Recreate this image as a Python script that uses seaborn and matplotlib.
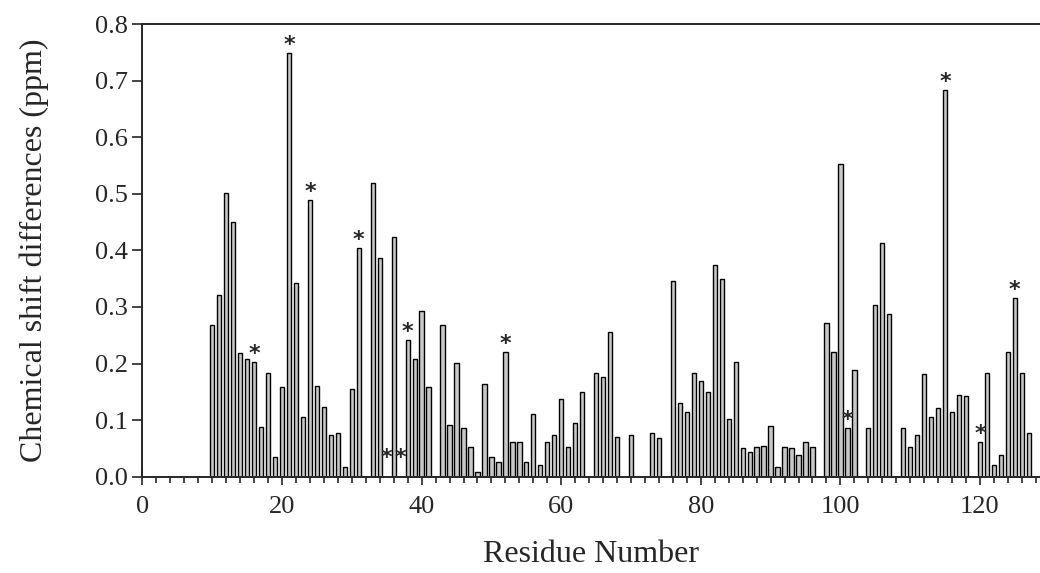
import numpy as np
import pandas as pd
import seaborn as sns
import matplotlib.pyplot as plt
from matplotlib.ticker import MultipleLocator

# residue numbers that have a measured bar, and the shift difference (ppm)
residues = [10, 11, 12, 13, 14, 15, 16, 17, 18, 19, 20, 21, 22, 23, 24, 25, 26, 27, 28, 29,
            30, 31, 33, 34, 36, 38, 39, 40, 41, 43, 44, 45, 46, 47, 48, 49, 50, 51, 52, 53,
            54, 55, 56, 57, 58, 59, 60, 61, 62, 63, 65, 66, 67, 68, 70, 73, 74, 76, 77, 78,
            79, 80, 81, 82, 83, 84, 85, 86, 87, 88, 89, 90, 91, 92, 93, 94, 95, 96, 98, 99,
            100, 101, 102, 104, 105, 106, 107, 109, 110, 111, 112, 113, 114, 115, 116, 117, 118, 120, 121, 122,
            123, 124, 125, 126, 127]
shifts = [0.268, 0.321, 0.502, 0.450, 0.218, 0.208, 0.203, 0.088, 0.183, 0.035, 0.158, 0.749, 0.342, 0.105, 0.489, 0.161, 0.124, 0.074, 0.078, 0.018,
          0.155, 0.405, 0.520, 0.387, 0.424, 0.242, 0.208, 0.293, 0.158, 0.269, 0.091, 0.201, 0.086, 0.052, 0.009, 0.164, 0.035, 0.026, 0.221, 0.062,
          0.061, 0.026, 0.111, 0.021, 0.061, 0.074, 0.137, 0.052, 0.095, 0.149, 0.183, 0.177, 0.255, 0.070, 0.074, 0.078, 0.068, 0.346, 0.130, 0.114,
          0.183, 0.170, 0.150, 0.374, 0.350, 0.102, 0.203, 0.051, 0.044, 0.052, 0.055, 0.090, 0.018, 0.052, 0.050, 0.039, 0.062, 0.052, 0.271, 0.220,
          0.552, 0.087, 0.189, 0.087, 0.304, 0.413, 0.287, 0.086, 0.052, 0.074, 0.181, 0.105, 0.121, 0.683, 0.114, 0.144, 0.142, 0.062, 0.184, 0.020,
          0.039, 0.220, 0.316, 0.184, 0.077]

# residues flagged with an asterisk (35 and 37 have no bar)
starred = [16, 21, 24, 31, 35, 37, 38, 52, 101, 115, 120, 125]

df = pd.DataFrame({"Residue": residues, "Shift": shifts})
lookup = dict(zip(residues, shifts))

sns.set_style("ticks")
plt.rcParams["font.family"] = ["Liberation Serif", "DejaVu Serif"]

fig = plt.figure(figsize=(10.4, 5.73), dpi=100)
ax = fig.add_axes([0.137, 0.168, 0.863, 0.79])

sns.barplot(data=df, x="Residue", y="Shift", native_scale=True, width=0.62,
            color="#c8c8c8", edgecolor="black", linewidth=1.0, saturation=1, ax=ax)

for r in starred:
    v = lookup.get(r, 0.0)
    y = v + 0.014 if v > 0 else 0.033
    ax.text(r, y, "*", ha="center", va="center", fontsize=16, fontweight="bold",
            fontfamily="DejaVu Sans")

ax.set_xlim(0, 128.6)
ax.set_ylim(0, 0.8)
ax.xaxis.set_major_locator(MultipleLocator(20))
ax.xaxis.set_minor_locator(MultipleLocator(2))
ax.yaxis.set_major_locator(MultipleLocator(0.1))
ax.yaxis.set_major_formatter(plt.FormatStrFormatter("%.1f"))
ax.tick_params(axis="x", which="major", direction="inout", length=12, width=1.2, labelsize=19, pad=8)
ax.tick_params(axis="x", which="minor", direction="out", length=4, width=1.2)
ax.tick_params(axis="y", direction="out", length=7, width=1.2, labelsize=19)

for s in ["left", "bottom", "top"]:
    ax.spines[s].set_linewidth(1.4)
ax.spines["right"].set_visible(False)

ax.set_xlabel("Residue Number", fontsize=23, labelpad=16)
ax.set_ylabel("Chemical shift differences (ppm)", fontsize=23, labelpad=33)

fig.savefig("out.png", dpi=100)
